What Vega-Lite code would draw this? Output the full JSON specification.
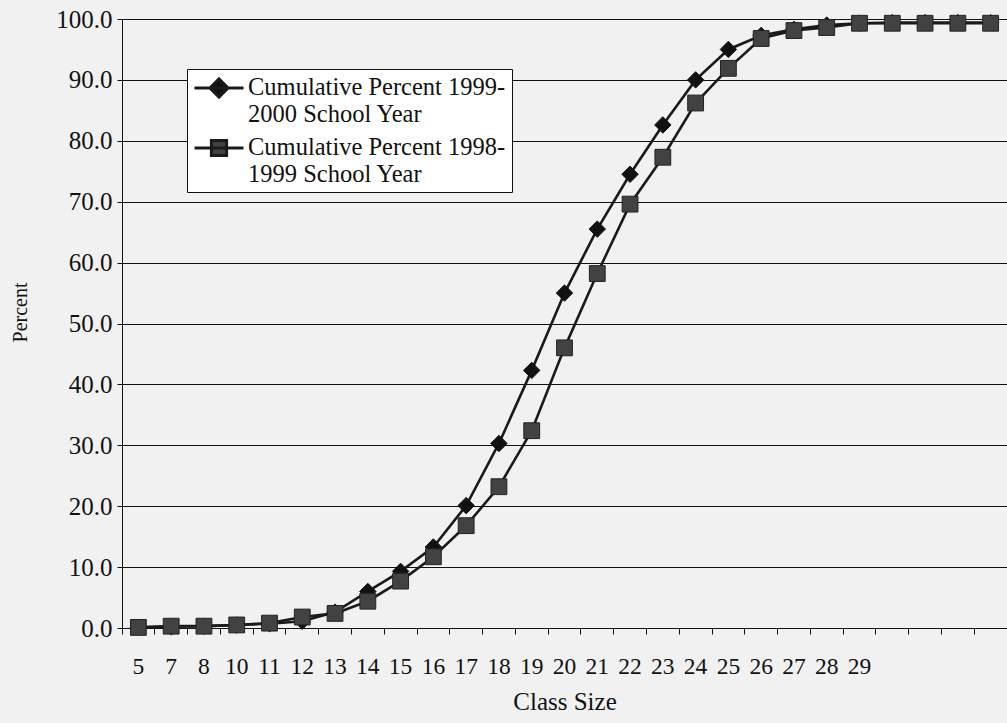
{
  "$schema": "https://vega.github.io/schema/vega-lite/v6.json",
  "autosize": "none",
  "width": 885,
  "height": 609,
  "padding": {"left": 122, "top": 19, "right": 0, "bottom": 95},
  "background": "#f1f1f1",
  "data": {
    "values": [
      {"size": 5, "series": "Cumulative Percent 1999-2000 School Year", "pct": 0.1},
      {"size": 7, "series": "Cumulative Percent 1999-2000 School Year", "pct": 0.2},
      {"size": 8, "series": "Cumulative Percent 1999-2000 School Year", "pct": 0.3},
      {"size": 10, "series": "Cumulative Percent 1999-2000 School Year", "pct": 0.5},
      {"size": 11, "series": "Cumulative Percent 1999-2000 School Year", "pct": 0.7},
      {"size": 12, "series": "Cumulative Percent 1999-2000 School Year", "pct": 1.1},
      {"size": 13, "series": "Cumulative Percent 1999-2000 School Year", "pct": 2.6},
      {"size": 14, "series": "Cumulative Percent 1999-2000 School Year", "pct": 6.0},
      {"size": 15, "series": "Cumulative Percent 1999-2000 School Year", "pct": 9.3},
      {"size": 16, "series": "Cumulative Percent 1999-2000 School Year", "pct": 13.3},
      {"size": 17, "series": "Cumulative Percent 1999-2000 School Year", "pct": 20.1},
      {"size": 18, "series": "Cumulative Percent 1999-2000 School Year", "pct": 30.3},
      {"size": 19, "series": "Cumulative Percent 1999-2000 School Year", "pct": 42.3},
      {"size": 20, "series": "Cumulative Percent 1999-2000 School Year", "pct": 55.0},
      {"size": 21, "series": "Cumulative Percent 1999-2000 School Year", "pct": 65.5},
      {"size": 22, "series": "Cumulative Percent 1999-2000 School Year", "pct": 74.5},
      {"size": 23, "series": "Cumulative Percent 1999-2000 School Year", "pct": 82.6},
      {"size": 24, "series": "Cumulative Percent 1999-2000 School Year", "pct": 90.0},
      {"size": 25, "series": "Cumulative Percent 1999-2000 School Year", "pct": 95.0},
      {"size": 26, "series": "Cumulative Percent 1999-2000 School Year", "pct": 97.3},
      {"size": 27, "series": "Cumulative Percent 1999-2000 School Year", "pct": 98.3},
      {"size": 28, "series": "Cumulative Percent 1999-2000 School Year", "pct": 99.0},
      {"size": 29, "series": "Cumulative Percent 1999-2000 School Year", "pct": 99.3},
      {"size": 30, "series": "Cumulative Percent 1999-2000 School Year", "pct": 99.4},
      {"size": 31, "series": "Cumulative Percent 1999-2000 School Year", "pct": 99.4},
      {"size": 32, "series": "Cumulative Percent 1999-2000 School Year", "pct": 99.4},
      {"size": 33, "series": "Cumulative Percent 1999-2000 School Year", "pct": 99.4},
      {"size": 5, "series": "Cumulative Percent 1998-1999 School Year", "pct": 0.1},
      {"size": 7, "series": "Cumulative Percent 1998-1999 School Year", "pct": 0.3},
      {"size": 8, "series": "Cumulative Percent 1998-1999 School Year", "pct": 0.3},
      {"size": 10, "series": "Cumulative Percent 1998-1999 School Year", "pct": 0.5},
      {"size": 11, "series": "Cumulative Percent 1998-1999 School Year", "pct": 0.8},
      {"size": 12, "series": "Cumulative Percent 1998-1999 School Year", "pct": 1.8},
      {"size": 13, "series": "Cumulative Percent 1998-1999 School Year", "pct": 2.4},
      {"size": 14, "series": "Cumulative Percent 1998-1999 School Year", "pct": 4.4},
      {"size": 15, "series": "Cumulative Percent 1998-1999 School Year", "pct": 7.7},
      {"size": 16, "series": "Cumulative Percent 1998-1999 School Year", "pct": 11.7},
      {"size": 17, "series": "Cumulative Percent 1998-1999 School Year", "pct": 16.8},
      {"size": 18, "series": "Cumulative Percent 1998-1999 School Year", "pct": 23.2},
      {"size": 19, "series": "Cumulative Percent 1998-1999 School Year", "pct": 32.4},
      {"size": 20, "series": "Cumulative Percent 1998-1999 School Year", "pct": 46.0},
      {"size": 21, "series": "Cumulative Percent 1998-1999 School Year", "pct": 58.2},
      {"size": 22, "series": "Cumulative Percent 1998-1999 School Year", "pct": 69.6},
      {"size": 23, "series": "Cumulative Percent 1998-1999 School Year", "pct": 77.3},
      {"size": 24, "series": "Cumulative Percent 1998-1999 School Year", "pct": 86.2},
      {"size": 25, "series": "Cumulative Percent 1998-1999 School Year", "pct": 91.9},
      {"size": 26, "series": "Cumulative Percent 1998-1999 School Year", "pct": 96.8},
      {"size": 27, "series": "Cumulative Percent 1998-1999 School Year", "pct": 98.1},
      {"size": 28, "series": "Cumulative Percent 1998-1999 School Year", "pct": 98.6},
      {"size": 29, "series": "Cumulative Percent 1998-1999 School Year", "pct": 99.3},
      {"size": 30, "series": "Cumulative Percent 1998-1999 School Year", "pct": 99.3},
      {"size": 31, "series": "Cumulative Percent 1998-1999 School Year", "pct": 99.3},
      {"size": 32, "series": "Cumulative Percent 1998-1999 School Year", "pct": 99.3},
      {"size": 33, "series": "Cumulative Percent 1998-1999 School Year", "pct": 99.3}
    ]
  },
  "encoding": {
    "x": {
      "field": "size",
      "type": "ordinal",
      "bandPosition": 0.5,
      "scale": {"type": "band", "paddingInner": 0, "paddingOuter": 0},
      "axis": {
        "title": "Class Size",
        "labelAngle": 0,
        "labelExpr": "datum.value > 29 ? '' : datum.label",
        "bandPosition": 0,
        "grid": false,
        "domainColor": "#111111",
        "tickColor": "#111111",
        "tickSize": 6,
        "labelPadding": 20,
        "labelFontSize": 23.5,
        "titleFontSize": 25,
        "titlePadding": 12,
        "titleFontWeight": "normal"
      }
    },
    "y": {
      "field": "pct",
      "type": "quantitative",
      "scale": {"domain": [0, 100], "nice": false},
      "axis": {
        "title": "Percent",
        "values": [0, 10, 20, 30, 40, 50, 60, 70, 80, 90, 100],
        "format": ".1f",
        "grid": true,
        "gridColor": "#111111",
        "gridWidth": 1.2,
        "gridOpacity": 1,
        "domainColor": "#111111",
        "tickColor": "#111111",
        "tickSize": 5,
        "labelPadding": 5,
        "labelFontSize": 25,
        "titleFontSize": 20,
        "titleFontWeight": "normal",
        "titleX": -102,
        "titleY": 293,
        "titleAlign": "center",
        "titleBaseline": "middle"
      }
    }
  },
  "layer": [
    {
      "mark": {"type": "line", "strokeWidth": 2.6, "color": "#1a1a1a"},
      "encoding": {
        "detail": {"field": "series"}
      }
    },
    {
      "transform": [{"filter": "datum.series == 'Cumulative Percent 1999-2000 School Year'"}],
      "mark": {"type": "point", "shape": "diamond", "filled": true, "size": 270, "opacity": 1, "color": "#111111", "strokeWidth": 1, "stroke": "#111111"}
    },
    {
      "transform": [{"filter": "datum.series == 'Cumulative Percent 1998-1999 School Year'"}],
      "mark": {"type": "point", "shape": "square", "filled": true, "size": 250, "opacity": 1, "color": "#424242", "strokeWidth": 1, "stroke": "#222222"}
    },
    {
      "transform": [{"filter": "false"}],
      "mark": {"type": "point", "filled": true, "opacity": 1},
      "encoding": {
        "color": {
          "field": "series",
          "type": "nominal",
          "scale": {
            "domain": ["Cumulative Percent 1999-2000 School Year", "Cumulative Percent 1998-1999 School Year"],
            "range": ["#111111", "#424242"]
          },
          "legend": {
            "orient": "none",
            "legendX": 65,
            "legendY": 50,
            "title": null,
            "strokeColor": "#111111",
            "fillColor": "#ffffff",
            "padding": 6,
            "labelFontSize": 24.5,
            "labelLineHeight": 30,
            "labelLimit": 400,
            "labelOffset": 3,
            "labelExpr": "[slice(datum.label, 0, 24), slice(datum.label, 24)]",
            "rowPadding": 9,
            "clipHeight": 26,
            "symbolSize": 2401,
            "symbolStrokeColor": "#1a1a1a",
            "symbolStrokeWidth": 3,
            "encode": {
              "symbols": {
                "update": {
                  "stroke": {"value": "#1a1a1a"},
                  "strokeWidth": {"value": 3},
                  "opacity": {"value": 1}
                }
              }
            }
          }
        },
        "shape": {
          "field": "series",
          "type": "nominal",
          "scale": {
            "domain": ["Cumulative Percent 1999-2000 School Year", "Cumulative Percent 1998-1999 School Year"],
            "range": ["M-1,0L1,0M-0.37,0L0,-0.37L0.37,0L0,0.37Z", "M-1,0L1,0M-0.31,-0.31L0.31,-0.31L0.31,0.31L-0.31,0.31Z"]
          }
        }
      }
    }
  ],
  "config": {
    "font": "Liberation Serif",
    "view": {"stroke": null},
    "axis": {"labelColor": "#111111", "titleColor": "#111111", "labelFont": "Liberation Serif", "titleFont": "Liberation Serif"},
    "legend": {"labelColor": "#111111", "labelFont": "Liberation Serif"}
  }
}
